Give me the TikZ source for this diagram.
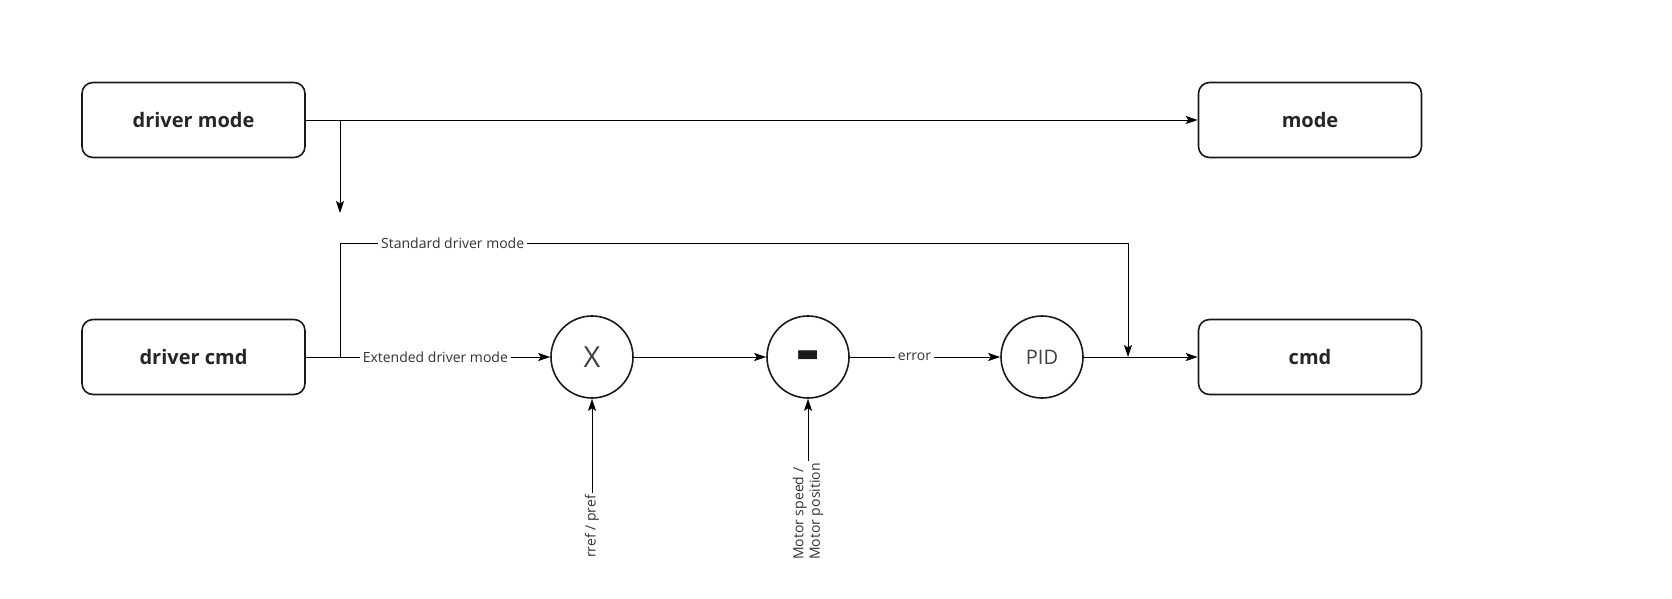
\documentclass[tikz,border=0pt]{standalone}
\usepackage{fontspec}
\setmainfont{Open Sans}
\usetikzlibrary{calc,arrows.meta}

\begin{document}
\begin{tikzpicture}[x=1pt, y=-1pt,
    box/.style={draw=black!90, line width=1.6pt, rounded corners=11pt, minimum width=223pt, minimum height=75pt, font=\fontsize{20}{24}\selectfont\bfseries, text=black!85},
    op/.style={circle, draw=black!90, line width=1.6pt, minimum size=82pt, inner sep=0pt, text=black!75},
    lbl/.style={fill=white, inner sep=3pt, font=\fontsize{14}{16.5}\selectfont, text=black!80},
    wire/.style={line width=0.9pt},
    >={Stealth[length=12pt, width=8pt, inset=2.5pt]}]
    \useasboundingbox (0,0) rectangle (1672,598);
    % blocks
    \node[box] (dmode) at (193.5,120) {driver mode};
    \node[box] (mode) at (1310,120) {mode};
    \node[box] (dcmd) at (193.5,357) {driver cmd};
    \node[box] (cmd) at (1310,357) {cmd};
    \node[op, font=\fontsize{29}{30}\selectfont] (mult) at (592,357) {X};
    \node[op] (sub) at (808,357) {};
    \node[font=\fontsize{72}{72}\selectfont\bfseries, text=black!90, inner sep=0pt] (subSign) at (808,362.5) {-};
    \node[op, font=\fontsize{20}{24}\selectfont] (pid) at (1042,357) {PID};
    % helper points
    \coordinate (dmBr) at (340,120);
    \coordinate (dmDown) at (340,213);
    \coordinate (cmBr) at (340,357);
    \coordinate (stdL) at (340,243);
    \coordinate (stdR) at (1128,243);
    \coordinate (stdJ) at (1128,357);
    \coordinate (rref) at (592,493);
    \coordinate (motor) at (808,461);
    % connectors
    \draw[wire, ->] (dmode.east) -- (mode.west);
    \draw[wire, ->] (dmBr) -- (dmDown);
    \draw[wire, ->] (dcmd.east) -- node[lbl, pos=0.53] {Extended driver mode} (mult.west);
    \draw[wire, ->] (cmBr) -- (stdL) -- node[lbl, pos=0.143] {Standard driver mode} (stdR) -- (stdJ);
    \draw[wire, ->] (mult.east) -- (sub.west);
    \draw[wire, ->] (sub.east) -- node[lbl, pos=0.43] {error} (pid.west);
    \draw[wire, ->] (pid.east) -- (cmd.west);
    \draw[wire, ->] (rref) -- (mult.south);
    \draw[wire, ->] (motor) -- (sub.south);
    \node[lbl, fill=none, rotate=90, anchor=east, inner sep=2pt] (rrefTxt) at (rref) {rref / pref};
    \node[lbl, fill=none, rotate=90, anchor=east, inner sep=2pt, align=left] (motorTxt) at (motor) {Motor speed /\\Motor position};
\end{tikzpicture}
\end{document}
